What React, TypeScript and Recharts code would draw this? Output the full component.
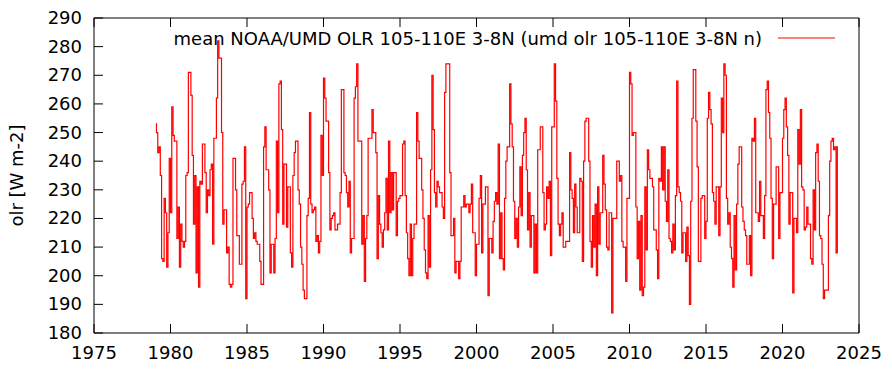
import { Legend, Line, LineChart, XAxis, YAxis } from "recharts";

const startYear = 1979;

// monthly OLR [W m-2], Jan 1979 onwards
const olr1979to1983 = [
  253, 250, 243, 245, 235, 206, 205, 227, 222, 203, 215, 241,
  222, 259, 249, 247, 247, 213, 224, 203, 218, 212, 210, 212,
  235, 236, 271, 271, 263, 242, 218, 235, 201, 231, 196, 233,
  232, 246, 246, 236, 222, 230, 228, 237, 239, 211, 248, 248,
  262, 282, 276, 276, 250, 218, 223, 223, 208, 210, 197, 196,
];
const olr1984to1988 = [
  197, 241, 241, 230, 214, 214, 204, 204, 232, 233, 245, 192,
  224, 225, 229, 229, 220, 213, 215, 212, 211, 211, 205, 197,
  197, 245, 252, 237, 237, 230, 201, 211, 211, 201, 213, 247,
  222, 267, 268, 251, 218, 239, 239, 217, 231, 231, 208, 203,
  235, 243, 247, 247, 230, 225, 210, 204, 195, 192, 192, 221,
];
const olr1989to1993 = [
  227, 257, 225, 222, 223, 224, 212, 214, 208, 212, 249, 235,
  269, 262, 254, 254, 236, 216, 220, 221, 222, 216, 216, 218,
  218, 229, 265, 265, 236, 235, 229, 224, 233, 208, 213, 213,
  262, 266, 274, 247, 247, 247, 211, 221, 198, 213, 221, 248,
  248, 248, 258, 250, 250, 243, 206, 228, 218, 215, 210, 216,
];
const olr1994to1998 = [
  222, 234, 216, 247, 222, 236, 223, 236, 236, 214, 226, 227,
  228, 228, 246, 247, 228, 215, 206, 200, 218, 200, 213, 218,
  218, 257, 247, 241, 241, 230, 220, 209, 201, 199, 221, 203,
  237, 270, 251, 229, 224, 233, 231, 229, 229, 224, 220, 264,
  274, 274, 274, 236, 214, 214, 220, 201, 205, 205, 199, 205,
];
const olr1999to2003 = [
  224, 224, 228, 224, 225, 225, 222, 225, 232, 215, 215, 200,
  211, 211, 227, 235, 208, 225, 225, 231, 231, 193, 213, 213,
  208, 219, 226, 229, 225, 246, 206, 222, 206, 202, 227, 240,
  245, 245, 267, 253, 245, 226, 213, 220, 210, 224, 238, 221,
  242, 250, 255, 237, 216, 229, 210, 221, 221, 201, 218, 201,
];
const olr2004to2008 = [
  244, 244, 252, 252, 229, 216, 218, 231, 227, 233, 207, 252,
  252, 274, 261, 234, 218, 214, 218, 222, 210, 210, 212, 212,
  212, 243, 230, 227, 215, 232, 224, 215, 215, 234, 233, 205,
  240, 254, 255, 255, 240, 212, 203, 221, 210, 225, 200, 231,
  211, 222, 222, 242, 232, 223, 210, 209, 222, 222, 187, 220,
];
const olr2009to2013 = [
  220, 220, 240, 240, 233, 235, 212, 210, 210, 198, 227, 227,
  271, 267, 249, 250, 250, 224, 206, 219, 195, 221, 193, 196,
  231, 209, 244, 237, 234, 234, 231, 216, 216, 209, 199, 234,
  233, 245, 230, 245, 226, 219, 237, 213, 212, 208, 218, 209,
  228, 268, 231, 229, 226, 208, 215, 215, 205, 217, 207, 190,
];
const olr2014to2018 = [
  226, 255, 272, 272, 254, 238, 205, 205, 227, 228, 228, 213,
  219, 255, 264, 258, 253, 229, 226, 218, 231, 231, 214, 231,
  262, 250, 274, 270, 227, 218, 222, 210, 206, 196, 221, 202,
  225, 239, 245, 245, 224, 219, 216, 214, 204, 204, 214, 200,
  248, 247, 255, 222, 222, 219, 233, 221, 221, 213, 228, 265,
];
const olr2019to2023 = [
  268, 257, 248, 227, 206, 225, 225, 238, 238, 213, 229, 229,
  248, 258, 262, 252, 242, 218, 229, 229, 194, 220, 220, 215,
  251, 239, 258, 231, 230, 216, 217, 224, 218, 218, 206, 204,
  230, 216, 243, 246, 233, 214, 213, 204, 192, 195, 195, 195,
  221, 240, 247, 248, 244, 245, 208, 245,
];

const xTicks = [1975, 1980, 1985, 1990, 1995, 2000, 2005, 2010, 2015, 2020, 2025];
const yTicks = [180, 190, 200, 210, 220, 230, 240, 250, 260, 270, 280, 290];
const seriesName = "mean NOAA/UMD OLR 105-110E 3-8N (umd olr 105-110E 3-8N n)";
const yLabel = "olr [W m-2]";

const monthly = [
  ...olr1979to1983,
  ...olr1984to1988,
  ...olr1989to1993,
  ...olr1994to1998,
  ...olr1999to2003,
  ...olr2004to2008,
  ...olr2009to2013,
  ...olr2014to2018,
  ...olr2019to2023,
];
const data = monthly.map((olr, i) => ({ t: startYear + (i + 0.5) / 12, olr }));

const FONT = "'DejaVu Sans', sans-serif";
const TICK = 9;

const BottomTick = ({ x, y, payload }: any) => (
  <g>
    <line x1={x} x2={x} y1={y} y2={y - TICK} stroke="#000" />
    <text x={x} y={y + 26} textAnchor="middle" fontSize={18} fontFamily={FONT} fill="#000">
      {payload.value}
    </text>
  </g>
);
const TopTick = ({ x, y }: any) => <line x1={x} x2={x} y1={y} y2={y + TICK} stroke="#000" />;
const LeftTick = ({ x, y, payload }: any) => (
  <g>
    <line x1={x} x2={x + TICK} y1={y} y2={y} stroke="#000" />
    <text x={x - 12} y={y + 6} textAnchor="end" fontSize={18} fontFamily={FONT} fill="#000">
      {payload.value}
    </text>
  </g>
);
const RightTick = ({ x, y }: any) => <line x1={x} x2={x - TICK} y1={y} y2={y} stroke="#000" />;

const LegendBox = () => (
  <svg width={892} height={60}>
    <text x={762} y={45} textAnchor="end" fontSize={18} fontFamily={FONT} fill="#000">
      {seriesName}
    </text>
    <line x1={778} x2={835} y1={38} y2={38} stroke="#ff0000" />
  </svg>
);

const YLabel = ({ viewBox }: any) => {
  const cy = viewBox.y + viewBox.height / 2;
  return (
    <text
      x={16}
      y={cy}
      transform={`rotate(-90 16 ${cy})`}
      textAnchor="middle"
      dominantBaseline="central"
      fontSize={18}
      fontFamily={FONT}
      fill="#000"
    >
      {yLabel}
    </text>
  );
};

export default function App() {
  return (
    <div style={{ position: "absolute", left: 0, top: 0, background: "#fff" }}>
      <LineChart width={892} height={381} data={data} margin={{ top: 17, right: 32, bottom: 47, left: 93 }}>
        <XAxis
          dataKey="t"
          type="number"
          domain={[1975, 2025]}
          ticks={xTicks}
          height={1}
          tickSize={0}
          tickMargin={0}
          tickLine={false}
          axisLine={{ stroke: "#000" }}
          tick={<BottomTick />}
          interval={0}
        />
        <XAxis
          xAxisId="top"
          dataKey="t"
          type="number"
          orientation="top"
          domain={[1975, 2025]}
          ticks={xTicks}
          height={1}
          tickSize={0}
          tickMargin={0}
          tickLine={false}
          axisLine={{ stroke: "#000" }}
          tick={<TopTick />}
          interval={0}
        />
        <YAxis
          type="number"
          domain={[180, 290]}
          ticks={yTicks}
          width={1}
          tickSize={0}
          tickMargin={0}
          tickLine={false}
          axisLine={{ stroke: "#000" }}
          tick={<LeftTick />}
          interval={0}
          label={<YLabel />}
        />
        <YAxis
          yAxisId="right"
          type="number"
          orientation="right"
          domain={[180, 290]}
          ticks={yTicks}
          width={1}
          tickSize={0}
          tickMargin={0}
          tickLine={false}
          axisLine={{ stroke: "#000" }}
          tick={<RightTick />}
          interval={0}
        />
        <Legend
          layout="horizontal"
          verticalAlign="middle"
          align="center"
          wrapperStyle={{ position: "absolute", left: 0, top: 0, width: 892, height: 60 }}
          content={<LegendBox />}
        />
        <Line
          type="step"
          dataKey="olr"
          name={seriesName}
          stroke="#ff0000"
          strokeWidth={1.2}
          dot={false}
          isAnimationActive={false}
        />
      </LineChart>
    </div>
  );
}
